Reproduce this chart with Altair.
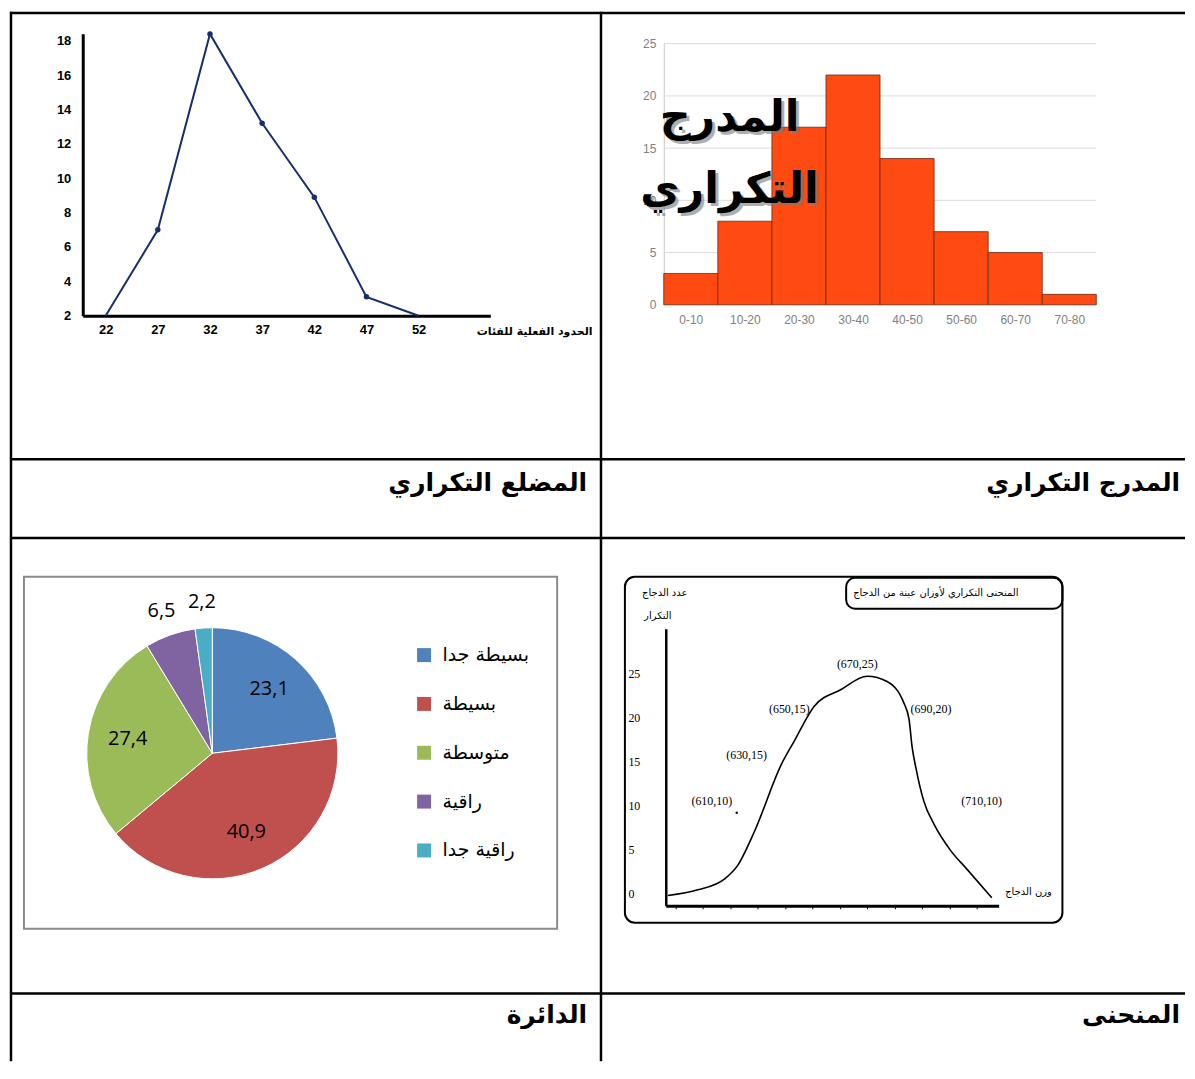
import altair as alt
import pandas as pd

# ---------------- data ----------------
# frequency polygon (upper-left)
poly_bounds = [22, 27, 32, 37, 42, 47, 52]
poly_freq = [2, 7, 18.4, 13.2, 8.9, 3.1, 2]
poly_yticks = [2, 4, 6, 8, 10, 12, 14, 16, 18]

# histogram (upper-right)
hist_classes = ["0-10", "10-20", "20-30", "30-40", "40-50", "50-60", "60-70", "70-80"]
hist_freq = [3, 8, 17, 22, 14, 7, 5, 1]
hist_yticks = [0, 5, 10, 15, 20, 25]

# frequency curve (lower-right)
curve_weight = [597.3, 608.2, 618.0, 622.7, 628.9, 638.7, 643.5, 650.7, 660.5, 670.0,
                677.3, 683.5, 685.3, 686.4, 687.8, 690.7, 694.4, 700.5, 706.4, 715.5]
curve_freq = [-0.2, 0.45, 1.7, 3.2, 7.1, 14.7, 17.4, 21.3, 23.2, 24.7,
              24.1, 21.6, 19.8, 16.7, 14.3, 10.5, 7.9, 4.9, 2.8, -0.45]
curve_yticks = [0, 5, 10, 15, 20, 25]
curve_notes = ["(670,25)", "(650,15)", "(690,20)", "(630,15)", "(610,10)", "(710,10)"]
note_weight = [666.4, 641.6, 693.3, 626.0, 613.3, 711.8]
note_freq = [26.1, 21.0, 21.0, 15.8, 10.5, 10.5]
dot_weight = [622.4]
dot_freq = [9.2]

# pie (lower-left)
pie_cats = ["بسيطة جدا", "بسيطة", "متوسطة", "راقية", "راقية جدا"]
pie_vals = [23.1, 40.9, 27.4, 6.5, 2.2]
pie_colors = ["#4F81BD", "#C0504D", "#9BBB59", "#8064A2", "#4BACC6"]

cell_titles = {"poly": "المضلع التكراري", "hist": "المدرج التكراري",
               "pie": "الدائرة", "curve": "المنحنى"}
hist_overlay = ["المدرج", "التكراري"]
poly_xtitle = "الحدود الفعلية للفئات"
curve_title = "المنحنى التكراري لأوزان عينة من الدجاج"
curve_ytitle = ["عدد الدجاج", "التكرار"]
curve_xtitle = "وزن الدجاج"

# ---------------- layout / style ----------------
ARAB = "DejaVu Sans"
SANS = "Liberation Sans"
SERIF = "Liberation Serif"
NAVY = "#17306b"
LW, RW = 593, 586
H1, H2, H3, H4 = 449, 79, 457, 68
BW = 2.5

ONE = alt.Data(values=[{"k": 0}])


def vline(x, h):
    return alt.Chart(ONE).mark_rule(color="black", strokeWidth=BW).encode(
        x=alt.value(x), y=alt.value(0), y2=alt.value(h))


def hline(y, w):
    return alt.Chart(ONE).mark_rule(color="black", strokeWidth=BW).encode(
        x=alt.value(0), x2=alt.value(w), y=alt.value(y))


def text_at(txt, x, y, size, font=ARAB, weight="normal", align="center", color="black", **kw):
    return alt.Chart(ONE).mark_text(text=txt, font=font, fontSize=size, fontWeight=weight,
                                    align=align, baseline="middle", color=color, **kw).encode(
        x=alt.value(x), y=alt.value(y))


# ---------------- polygon cell ----------------
poly_df = pd.DataFrame({"bound": poly_bounds, "freq": poly_freq})
pxs = alt.Scale(domain=[19.8, 58.88], range=[73, 482], nice=False, zero=False)
pys = alt.Scale(domain=[2, 18.41], range=[305, 22], nice=False, zero=False)
poly_base = alt.Chart(poly_df).encode(
    x=alt.X("bound:Q", scale=pxs, axis=alt.Axis(
        values=poly_bounds, offset=-(H1 - 305), grid=False, ticks=False, tickSize=0,
        domainColor="black", domainWidth=3, labelFont=SANS, labelFontSize=13,
        labelFontWeight="bold", labelColor="black", labelPadding=8, labelFlush=False,
        labelOverlap=False, title=poly_xtitle, titleFont=ARAB, titleFontSize=11,
        titleFontWeight="bold", titleColor="black", titleX=584, titleY=16,
        titleAlign="right", titleBaseline="middle")),
    y=alt.Y("freq:Q", scale=pys, axis=alt.Axis(
        values=poly_yticks, offset=-73, grid=False, ticks=False, tickSize=0,
        domainColor="black", domainWidth=3, labelFont=SANS, labelFontSize=13,
        labelFontWeight="bold", labelColor="black", labelPadding=12, labelFlush=False,
        labelOverlap=False, title=None)),
)
poly_cell = alt.layer(
    poly_base.mark_line(color=NAVY, strokeWidth=2),
    poly_base.mark_point(filled=True, color=NAVY, size=30, opacity=1).transform_filter("datum.freq > 2"),
    hline(1.25, LW), vline(1, H1),
).properties(width=LW, height=H1)

# ---------------- histogram cell ----------------
hist_lo = [int(c.split("-")[0]) for c in hist_classes]
hist_hi = [int(c.split("-")[1]) for c in hist_classes]
hist_df = pd.DataFrame({"cls": hist_classes, "lo": hist_lo, "hi": hist_hi, "f": hist_freq,
                        "base": 0})
grid_df = pd.DataFrame({"f": hist_yticks, "lo": hist_lo[0], "hi": hist_hi[-1]})
hxs = alt.Scale(domain=[hist_lo[0], hist_hi[-1]], range=[63, 497], nice=False, zero=False)
hys = alt.Scale(domain=[0, 25], range=[294, 32], nice=False)
label_arr = "[" + ",".join("'%s'" % c for c in hist_classes) + "]"
hx = alt.X("lo:Q", scale=hxs, axis=alt.Axis(
    values=[(a + b) / 2 for a, b in zip(hist_lo, hist_hi)],
    labelExpr=label_arr + "[floor(datum.value/10)]",
    offset=-(H1 - 294), domain=False, ticks=False, tickSize=0, grid=False,
    labelColor="#808080", labelFont=SANS, labelFontSize=12, labelPadding=10,
    labelFlush=False, labelOverlap=False, title=None))
hy = alt.Y("f:Q", scale=hys, axis=alt.Axis(
    values=hist_yticks, offset=-63, domainColor="#c8c8c8", domainWidth=1, ticks=False,
    tickSize=0, grid=False, labelColor="#808080", labelFont=SANS, labelFontSize=12,
    labelPadding=8, labelFlush=False, title=None))
hist_grid = alt.Chart(grid_df).mark_rule(color="#dcdcdc", strokeWidth=1).encode(
    x=hx, x2="hi:Q", y=hy)
hist_bars = alt.Chart(hist_df).mark_rect(color="#FF4A12", stroke="#6a2a14", strokeWidth=0.8).encode(
    x=hx, x2="hi:Q", y=hy, y2="base:Q")
overlay = []
for txt, yy in zip(hist_overlay, [107, 179]):
    overlay.append(text_at(txt, 132, yy + 3, 43, weight="bold", color="#7a7a7a", opacity=0.6))
    overlay.append(text_at(txt, 129, yy, 43, weight="bold", color="black"))
hist_cell = alt.layer(
    hist_grid, hist_bars, *overlay, hline(1.25, RW), vline(0, H1),
).properties(width=RW, height=H1)

# ---------------- label cells ----------------
poly_label = alt.layer(
    text_at(cell_titles["poly"], 579, 24, 25, weight="bold", align="right"),
    hline(0, LW), vline(1, H2),
).properties(width=LW, height=H2)
hist_label = alt.layer(
    text_at(cell_titles["hist"], 581, 24, 25, weight="bold", align="right"),
    hline(0, RW), vline(0, H2),
).properties(width=RW, height=H2)

# ---------------- pie cell ----------------
pie_df = pd.DataFrame({"cat": pie_cats, "v": pie_vals, "i": list(range(len(pie_vals))),
                       "lab": [str(v).replace(".", ",") for v in pie_vals]})
pie_base = alt.Chart(pie_df).encode(
    theta=alt.Theta("v:Q", stack=True), order=alt.Order("i:Q"),
    x=alt.value(203), y=alt.value(216))
pie_arc = pie_base.mark_arc(outerRadius=126, stroke="white", strokeWidth=1).encode(
    color=alt.Color("cat:N", scale=alt.Scale(domain=pie_cats, range=pie_colors),
                    legend=alt.Legend(orient="none", legendX=406, legendY=108, title=None,
                                      symbolType="square", symbolSize=196, symbolStrokeWidth=0,
                                      labelFont=ARAB, labelFontSize=19, labelColor="black",
                                      rowPadding=29, labelOffset=9, padding=0)))
pie_in = pie_base.mark_text(radius=86, font="Open Sans", fontSize=20).encode(
    text="lab:N",
    color=alt.condition("datum.v >= 10", alt.value("black"), alt.value("transparent")))
pie_out = pie_base.mark_text(radius=152, font="Open Sans", fontSize=20).encode(
    text="lab:N",
    color=alt.condition("datum.v < 10", alt.value("black"), alt.value("transparent")))
pie_frame = alt.Chart(ONE).mark_rect(fill="transparent", stroke="#8c8c8c", strokeWidth=2).encode(
    x=alt.value(14), x2=alt.value(549), y=alt.value(39), y2=alt.value(392))
pie_cell = alt.layer(
    pie_frame, pie_arc, pie_in, pie_out, hline(0, LW), vline(1, H3),
).properties(width=LW, height=H3)

# ---------------- curve cell ----------------
curve_df = pd.DataFrame({"weight": curve_weight, "freq": curve_freq})
notes_df = pd.DataFrame({"weight": note_weight, "freq": note_freq, "note": curve_notes})
dot_df = pd.DataFrame({"weight": dot_weight, "freq": dot_freq})
cxs = alt.Scale(domain=[596.5, 718], range=[65, 399], nice=False, zero=False)
cys = alt.Scale(domain=[-1.36, 30.1], range=[369, 91], nice=False, zero=False)
cx = alt.X("weight:Q", scale=cxs, axis=alt.Axis(
    offset=-(H3 - 369), grid=False, labels=False, ticks=True, tickSize=3, tickWidth=1,
    tickColor="black", tickCount=16, domainColor="black", domainWidth=3, title=None,
    zindex=2))
cy = alt.Y("freq:Q", scale=cys, axis=alt.Axis(
    values=curve_yticks, offset=-65, grid=False, ticks=False, tickSize=0,
    domainColor="black", domainWidth=2.5, labelAlign="left", labelPadding=38,
    labelFont=SERIF, labelFontSize=12, labelColor="black", labelFlush=False, title=None,
    zindex=2))
curve_frame = alt.Chart(ONE).mark_rect(fill="transparent", stroke="black", strokeWidth=2,
                                       cornerRadius=10).encode(
    x=alt.value(24), x2=alt.value(463), y=alt.value(39), y2=alt.value(386))
title_box = alt.Chart(ONE).mark_rect(fill="transparent", stroke="black", strokeWidth=2,
                                     cornerRadius=9).encode(
    x=alt.value(246), x2=alt.value(463), y=alt.value(40), y2=alt.value(71))
curve_line = alt.Chart(curve_df).mark_line(color="black", strokeWidth=1.6,
                                          interpolate="monotone").encode(x=cx, y=cy)
curve_notes_l = alt.Chart(notes_df).mark_text(font=SERIF, fontSize=12, color="black").encode(
    x=cx, y=cy, text="note:N")
curve_dot = alt.Chart(dot_df).mark_point(filled=True, color="black", size=6, opacity=1).encode(
    x=cx, y=cy)
curve_cell = alt.layer(
    curve_frame, title_box, curve_line, curve_notes_l, curve_dot,
    text_at(curve_title, 336, 55, 10),
    text_at(curve_ytitle[0], 64, 55, 10),
    text_at(curve_ytitle[1], 57, 78, 10),
    text_at(curve_xtitle, 429, 355, 10),
    hline(0, RW), vline(0, H3),
).properties(width=RW, height=H3)

# ---------------- bottom label cells ----------------
pie_label = alt.layer(
    text_at(cell_titles["pie"], 579, 22, 25, weight="bold", align="right"),
    hline(0, LW), vline(1, H4),
).properties(width=LW, height=H4)
curve_label = alt.layer(
    text_at(cell_titles["curve"], 581, 22, 25, weight="bold", align="right"),
    hline(0, RW), vline(0, H4),
).properties(width=RW, height=H4)

chart = alt.concat(
    poly_cell, hist_cell, poly_label, hist_label, pie_cell, curve_cell, pie_label, curve_label,
    columns=2, spacing=0, bounds="flush",
    padding={"left": 0, "top": 0, "right": 0, "bottom": 0},
).configure_view(strokeWidth=0).resolve_scale(color="independent")

chart.save("out.html", embed_options={"renderer": "svg", "actions": False})
